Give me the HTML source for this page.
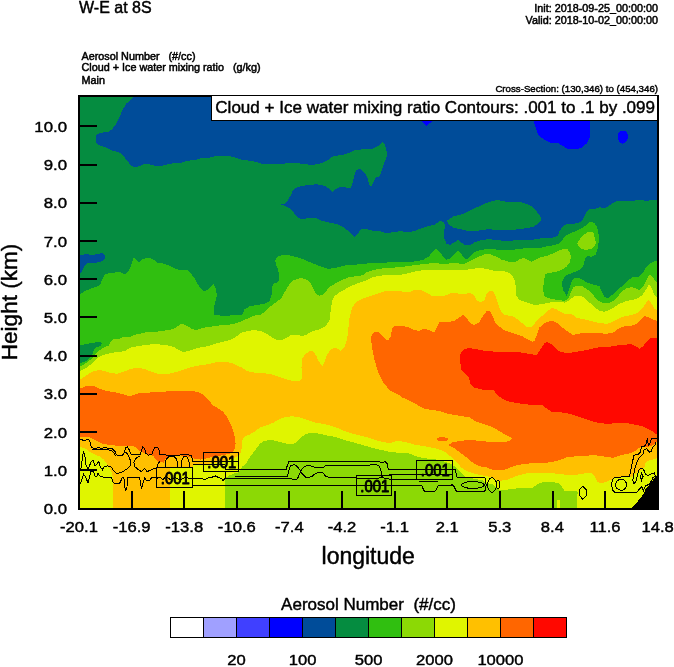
<!DOCTYPE html>
<html><head><meta charset="utf-8"><title>W-E at 8S</title>
<style>
html,body{margin:0;padding:0;background:#fff;}
svg{display:block;}
text{font-family:"Liberation Sans",sans-serif;fill:#000;stroke:#000;stroke-width:.45px;stroke-linejoin:round;}
.t16{font-size:16px;}
.t17{font-size:17px;}
.t11{font-size:10.8px;stroke-width:.5px;}
.t10{font-size:9.7px;stroke-width:.45px;}
.t22{font-size:22.5px;}
.cl{font-size:17px;stroke-width:.95px;}
</style></head><body>
<svg width="674" height="667" viewBox="0 0 674 667">
<rect width="674" height="667" fill="#fff"/>
<g shape-rendering="crispEdges">
<rect x="79" y="96" width="579" height="412" fill="#058c40"/>
<path d="M135.8 96.0 L658.0 96.0 L658.0 199.5 L653.2 200.0 L647.0 200.8 L639.5 200.0 L632.0 200.8 L624.0 200.7 L616.8 201.3 L613.0 203.2 L608.6 205.7 L605.5 208.2 L603.0 208.2 L600.5 207.2 L595.4 208.6 L589.1 209.2 L586.6 211.4 L584.7 215.2 L582.8 220.2 L579.0 222.7 L572.7 224.0 L565.2 224.6 L562.0 227.1 L559.5 231.5 L557.6 235.9 L552.6 237.8 L540.0 238.5 L534.0 239.5 L526.5 239.5 L519.0 239.5 L511.5 240.8 L504.0 240.8 L496.5 240.0 L489.0 239.2 L481.5 240.0 L475.2 242.0 L470.2 245.0 L465.2 245.5 L461.5 242.5 L457.8 240.0 L454.0 242.5 L450.2 245.0 L446.5 243.8 L444.5 238.8 L444.0 231.2 L445.2 226.2 L444.0 222.5 L440.2 220.8 L434.0 225.0 L427.8 226.2 L421.5 228.2 L414.0 231.2 L409.0 232.0 L399.5 231.2 L394.5 232.0 L387.0 233.2 L379.5 231.2 L372.0 230.5 L364.5 228.8 L360.8 229.2 L357.5 234.2 L354.5 237.0 L352.0 235.0 L347.0 230.0 L342.0 226.2 L337.0 224.2 L329.5 222.5 L322.0 220.8 L315.8 218.2 L309.5 218.0 L302.0 219.2 L298.2 218.0 L294.5 213.8 L290.8 208.8 L285.8 206.2 L281.2 204.5 L285.8 203.2 L288.2 200.0 L290.8 195.0 L293.2 190.0 L295.8 188.0 L302.0 185.8 L309.5 185.0 L317.0 184.2 L324.5 185.8 L329.5 188.8 L332.5 192.5 L335.8 188.8 L340.8 187.0 L345.8 187.5 L350.8 188.0 L352.8 182.5 L354.5 175.0 L356.5 170.0 L359.5 168.8 L363.2 171.2 L367.0 176.2 L369.0 183.8 L370.8 187.0 L373.2 182.5 L375.8 177.5 L379.5 176.2 L382.0 170.0 L384.5 162.5 L387.5 155.0 L385.0 145.0 L382.5 142.0 L378.2 146.2 L372.0 148.8 L364.5 149.2 L354.5 150.0 L349.5 152.5 L342.0 155.0 L333.2 156.2 L328.2 160.0 L322.0 163.2 L312.0 165.0 L302.0 163.8 L293.2 162.5 L282.0 163.8 L272.0 164.2 L262.0 163.8 L252.0 160.8 L242.0 160.0 L232.5 156.8 L225.0 155.5 L217.5 155.5 L210.0 157.5 L202.5 157.5 L195.0 160.0 L187.5 160.8 L182.5 162.5 L175.0 163.0 L167.5 164.2 L161.2 166.2 L155.0 165.8 L150.0 164.5 L143.8 164.2 L138.8 166.2 L135.0 167.5 L131.2 165.8 L127.5 161.2 L123.8 156.2 L118.8 152.0 L112.5 150.8 L107.5 148.2 L102.5 146.2 L98.0 145.0 L96.0 142.5 L96.0 136.2 L97.5 133.8 L102.5 132.5 L108.2 132.0 L112.5 128.8 L116.2 123.8 L119.5 117.5 L122.5 110.0 L126.2 103.8 L131.2 99.0Z" fill="#004c99"/>
<path d="M446.5 220.8 L454.0 216.2 L462.8 214.2 L469.0 210.8 L476.5 207.5 L484.0 203.8 L491.5 201.2 L497.8 200.0 L506.5 201.8 L519.0 201.8 L526.5 203.8 L531.5 206.2 L536.5 211.2 L540.2 216.2 L541.5 219.5 L537.8 223.8 L532.8 227.0 L526.5 228.2 L516.5 229.5 L504.0 230.0 L494.0 230.0 L489.0 228.8 L484.0 230.0 L476.5 230.8 L469.0 231.2 L461.5 229.5 L454.0 228.0 L449.0 224.5Z" fill="#058c40"/>
<path d="M79.5 255.0 L86.2 254.2 L92.5 255.0 L97.5 253.8 L102.5 253.2 L105.0 255.0 L105.5 258.0 L102.5 261.2 L97.5 262.5 L90.0 262.5 L86.2 263.8 L83.8 267.5 L81.2 272.5 L79.5 273.8Z" fill="#004c99"/>
<path d="M420.0 120.0 L433.0 120.0 L430.0 123.0 L426.5 125.8 L423.0 123.0Z" fill="#0000ff"/>
<path d="M533.2 120.0 L535.8 127.5 L538.2 135.0 L544.5 140.0 L552.0 143.2 L558.2 143.0 L562.0 145.5 L567.0 148.8 L575.8 149.5 L582.0 147.5 L587.0 143.2 L589.5 137.5 L589.5 120.0Z" fill="#0000ff"/>
<path d="M618.0 134.0 L619.5 131.5 L622.5 130.8 L626.0 131.5 L628.0 134.5 L627.5 138.5 L626.0 142.0 L623.0 143.8 L620.0 143.0 L618.5 139.5Z" fill="#0000ff"/>
<path d="M79.5 294.5 L85.0 291.2 L90.0 288.8 L96.2 287.0 L100.0 285.0 L102.5 278.8 L105.0 274.5 L108.8 273.0 L115.0 272.5 L120.0 272.0 L125.0 274.2 L128.8 271.2 L131.2 265.0 L133.8 257.0 L136.2 259.5 L138.8 262.5 L142.5 259.5 L146.2 258.0 L150.0 258.0 L153.8 260.0 L157.5 262.5 L162.5 263.2 L167.5 265.0 L172.5 267.5 L177.5 269.5 L182.5 270.0 L187.5 270.5 L191.2 273.8 L195.0 278.8 L197.5 283.8 L201.2 288.8 L203.8 291.8 L207.5 290.0 L211.2 286.2 L213.8 284.2 L216.2 290.0 L216.8 296.2 L215.0 302.5 L213.8 308.8 L213.8 315.0 L220.0 315.5 L230.0 315.5 L241.8 315.0 L244.5 309.5 L249.5 306.2 L257.0 305.0 L264.5 303.8 L269.5 301.2 L271.5 295.0 L272.0 286.2 L274.5 283.2 L278.2 282.0 L279.5 276.2 L278.2 270.0 L275.8 263.8 L275.2 260.0 L278.2 256.2 L283.2 255.0 L289.5 255.5 L295.8 257.0 L302.0 258.8 L309.5 262.0 L317.0 265.0 L322.0 267.0 L328.2 268.8 L334.5 268.0 L342.0 266.2 L349.5 264.5 L357.0 264.5 L364.5 263.8 L372.0 263.0 L379.5 262.5 L387.0 262.5 L394.5 262.0 L402.0 262.0 L408.8 262.0 L416.5 261.2 L424.0 259.5 L429.0 256.2 L432.8 251.2 L436.0 248.8 L439.0 251.2 L442.8 256.2 L446.5 259.5 L450.2 258.8 L454.0 255.0 L457.8 251.2 L460.2 252.0 L462.8 256.2 L466.5 259.5 L470.2 256.2 L474.0 252.0 L480.2 250.0 L489.0 248.8 L496.5 249.5 L504.0 250.5 L511.5 250.0 L519.0 248.8 L529.0 248.0 L540.0 247.9 L545.0 246.6 L552.6 245.4 L558.9 243.5 L562.0 240.3 L564.6 236.6 L567.1 234.7 L571.5 232.8 L576.5 230.9 L581.6 228.4 L585.3 225.9 L588.5 222.7 L591.6 221.8 L594.8 223.3 L597.3 227.7 L598.6 234.0 L598.6 242.9 L597.3 250.4 L595.4 254.8 L591.6 256.7 L587.9 256.1 L585.3 258.0 L584.1 263.0 L582.2 268.1 L577.8 270.6 L571.5 273.1 L567.1 275.0 L563.9 277.5 L561.5 283.8 L563.2 290.0 L566.5 295.5 L568.2 292.5 L570.0 286.2 L572.5 280.0 L575.8 277.5 L580.8 278.8 L587.0 282.5 L594.5 285.0 L599.5 286.2 L602.0 292.5 L604.5 297.0 L608.2 298.0 L612.0 295.0 L617.0 290.0 L622.0 286.2 L627.0 281.2 L632.0 277.5 L638.2 277.0 L643.2 272.5 L645.8 267.5 L649.5 263.8 L654.5 261.2 L658.0 260.5 L658.0 508.0 L79.0 508.0Z" fill="#30bf10"/>
<path d="M79.5 345.5 L87.5 343.8 L95.0 342.5 L100.0 341.8 L102.0 343.8 L100.0 346.2 L96.2 347.5 L93.8 350.0 L92.5 353.8 L90.0 357.5 L86.2 361.2 L82.5 362.5 L79.5 362.5Z" fill="#058c40"/>
<path d="M79.5 367.0 L85.0 363.8 L90.0 360.0 L95.0 355.0 L98.8 350.8 L103.8 347.5 L108.8 345.5 L111.2 341.2 L113.8 339.2 L118.8 338.8 L123.8 337.0 L128.8 337.5 L133.8 335.0 L140.0 333.8 L147.5 332.0 L155.0 332.0 L162.5 330.8 L170.0 330.0 L175.0 328.0 L180.0 324.5 L183.8 324.2 L187.5 326.2 L192.5 329.2 L196.2 330.0 L200.0 328.8 L207.5 327.0 L215.0 326.2 L222.5 325.0 L230.0 324.5 L236.2 323.2 L241.8 321.2 L247.0 318.8 L253.2 315.8 L260.8 314.5 L265.8 311.2 L270.8 306.2 L275.8 302.5 L280.8 298.8 L284.5 292.5 L288.2 286.2 L292.0 281.2 L297.0 278.8 L302.0 278.0 L307.0 280.0 L310.8 283.8 L313.2 288.8 L315.8 293.8 L319.5 295.8 L323.2 294.5 L327.0 290.0 L330.8 286.2 L335.8 283.2 L342.0 280.0 L349.5 277.0 L357.0 276.2 L363.2 275.0 L367.0 272.0 L373.2 270.0 L379.5 268.8 L387.0 268.0 L394.5 267.5 L402.0 267.0 L408.8 265.8 L416.5 265.0 L424.0 263.8 L434.0 263.2 L444.0 263.8 L454.0 263.2 L464.0 263.8 L470.2 261.2 L476.5 257.5 L484.0 254.5 L489.0 253.8 L495.2 256.2 L501.5 259.5 L509.0 262.0 L515.2 262.0 L520.2 258.8 L524.0 258.0 L527.8 260.0 L531.5 262.0 L540.0 257.3 L546.3 256.1 L552.6 253.6 L558.9 250.4 L563.9 248.9 L567.7 249.4 L570.2 252.9 L570.9 258.0 L569.6 263.0 L566.4 266.8 L561.4 269.9 L556.4 271.8 L550.1 272.8 L545.7 273.7 L544.0 280.0 L543.2 288.8 L544.0 296.2 L548.2 298.0 L557.0 300.0 L564.5 300.8 L568.2 298.8 L570.8 292.5 L573.2 287.5 L577.0 285.5 L582.0 286.2 L588.2 290.0 L593.2 295.0 L597.0 300.0 L602.0 302.5 L609.5 302.5 L614.5 300.0 L618.2 296.2 L622.0 291.2 L627.0 288.0 L632.0 287.0 L637.0 288.8 L639.5 290.5 L643.2 286.2 L647.0 278.8 L649.5 275.0 L652.0 276.2 L654.5 280.0 L658.0 283.8 L658.0 508.0 L79.0 508.0Z" fill="#8cd905"/>
<path d="M577.2 243.5 L580.3 238.5 L584.1 234.7 L587.9 232.2 L592.3 232.2 L594.2 234.0 L594.8 239.1 L596.0 242.9 L594.8 246.0 L592.3 248.5 L586.6 249.8 L581.6 249.2 L578.4 246.0Z" fill="#8cd905"/>
<path d="M79.5 371.2 L85.0 368.8 L90.0 365.0 L95.0 360.0 L100.0 356.2 L107.5 353.8 L113.8 352.5 L120.0 352.0 L125.0 350.8 L131.2 347.5 L137.5 346.2 L145.0 345.0 L152.5 344.2 L160.0 344.5 L167.5 345.5 L173.8 347.0 L178.8 350.0 L182.5 352.0 L187.5 351.2 L192.5 349.5 L200.0 347.5 L207.5 346.2 L215.0 343.8 L222.5 341.8 L230.0 340.0 L235.0 337.5 L241.8 332.5 L248.2 330.8 L254.5 330.0 L260.8 331.2 L267.0 333.8 L272.0 337.5 L277.0 340.0 L282.0 340.0 L287.0 337.5 L292.0 334.5 L297.0 334.5 L302.0 336.2 L307.0 334.5 L312.0 331.2 L319.5 329.5 L325.8 326.2 L329.5 320.0 L330.8 310.0 L332.0 301.2 L334.5 296.2 L339.5 292.5 L345.8 288.8 L352.0 285.5 L359.5 282.5 L367.0 280.0 L372.0 277.5 L379.5 275.8 L387.0 275.0 L394.5 275.0 L402.0 274.5 L408.8 273.0 L416.5 271.2 L424.0 270.0 L434.0 269.5 L444.0 270.0 L454.0 270.0 L464.0 270.5 L471.5 268.8 L481.5 268.0 L489.0 269.5 L496.5 271.2 L504.0 271.2 L509.0 273.0 L512.8 276.2 L515.2 281.2 L516.0 290.0 L516.5 296.2 L519.5 300.0 L527.0 302.5 L534.5 305.0 L542.0 304.2 L549.5 302.5 L557.0 301.8 L564.5 302.5 L569.5 300.0 L574.5 296.2 L579.5 295.5 L584.5 298.0 L589.5 302.5 L594.5 307.5 L599.5 310.8 L604.5 311.8 L609.5 310.0 L614.5 307.0 L619.5 303.8 L625.8 301.2 L632.0 300.0 L637.0 298.8 L642.0 295.5 L645.8 290.0 L648.2 285.5 L650.0 284.5 L652.0 288.8 L654.5 295.0 L658.0 298.8 L658.0 508.0 L79.0 508.0Z" fill="#e0f500"/>
<path d="M79.5 380.0 L85.0 376.2 L90.0 373.0 L95.0 370.8 L100.0 370.0 L105.0 371.2 L111.2 373.0 L117.5 373.8 L125.0 371.2 L131.2 368.8 L137.5 367.5 L143.8 368.8 L150.0 371.2 L157.5 373.8 L165.0 374.5 L172.5 373.0 L180.0 370.8 L187.5 368.2 L195.0 366.2 L202.5 365.0 L210.0 363.8 L217.5 362.0 L225.0 361.8 L232.5 363.2 L237.5 365.8 L242.0 367.5 L247.0 371.2 L254.5 372.5 L262.0 373.2 L269.5 373.8 L277.0 376.2 L284.5 378.8 L292.0 380.8 L299.5 380.8 L302.0 378.8 L301.5 367.5 L302.0 358.8 L305.8 353.8 L309.5 351.2 L313.2 351.2 L315.8 355.0 L318.2 360.0 L320.8 364.5 L322.5 365.8 L324.5 362.5 L327.0 355.0 L330.8 349.5 L334.5 347.5 L338.2 348.8 L340.8 350.8 L344.5 347.5 L347.0 340.0 L348.2 330.0 L349.5 317.5 L352.0 307.5 L355.8 302.5 L362.0 298.8 L369.5 296.2 L377.0 293.8 L384.5 291.2 L392.0 290.5 L399.5 291.2 L408.8 292.5 L414.0 290.0 L420.2 289.5 L426.5 292.5 L431.5 295.5 L437.8 296.2 L444.0 296.2 L449.0 293.8 L454.0 292.5 L459.0 293.8 L464.0 294.5 L470.2 292.5 L474.0 295.5 L476.5 300.0 L480.2 302.5 L484.0 300.8 L486.5 294.5 L489.0 291.2 L492.8 291.2 L495.2 295.0 L497.8 302.5 L500.2 310.0 L504.0 314.5 L509.0 315.8 L512.0 316.2 L517.0 318.8 L522.0 323.0 L527.0 327.0 L530.8 327.5 L534.5 323.8 L538.2 318.8 L543.2 315.0 L548.2 310.5 L552.0 308.0 L555.8 308.8 L559.5 311.2 L564.5 313.8 L569.5 313.8 L573.2 315.0 L577.0 318.0 L584.5 319.5 L592.0 321.2 L599.5 323.0 L607.0 323.8 L612.0 322.0 L618.2 318.8 L624.5 316.2 L632.0 315.0 L638.2 312.5 L643.2 307.5 L647.0 301.2 L648.8 300.0 L650.8 302.5 L654.5 308.8 L658.0 311.2 L658.0 457.5 L653.0 459.6 L647.9 460.9 L645.4 462.8 L644.8 466.6 L642.9 469.1 L637.9 471.6 L634.1 474.7 L631.6 476.6 L627.8 477.3 L619.0 477.3 L612.7 478.5 L611.6 479.7 L606.6 481.6 L601.6 483.1 L597.8 482.3 L595.9 479.1 L594.0 475.3 L591.5 473.4 L585.2 473.4 L576.4 474.7 L570.1 475.1 L565.0 474.7 L560.0 473.8 L557.5 474.0 L552.5 473.0 L543.7 472.7 L534.9 472.7 L526.0 473.4 L518.5 475.3 L512.2 477.8 L505.9 480.3 L499.6 480.6 L493.3 478.4 L487.0 476.2 L482.3 475.3 L476.0 474.0 L469.8 472.1 L464.7 470.2 L460.9 467.1 L457.2 462.7 L453.4 458.9 L449.6 455.7 L445.8 452.6 L440.8 450.1 L434.5 448.2 L428.2 446.9 L421.9 445.7 L415.6 445.0 L409.3 443.1 L403.0 441.6 L397.0 441.0 L390.0 443.2 L382.5 442.0 L375.0 440.0 L367.5 437.5 L360.0 435.5 L352.5 433.8 L345.0 431.2 L337.5 428.0 L330.0 425.5 L322.5 423.8 L315.0 422.5 L307.5 420.0 L300.0 417.5 L292.5 416.2 L285.0 417.0 L280.0 418.8 L273.8 422.5 L267.5 425.0 L260.0 427.5 L255.0 431.2 L250.0 434.5 L245.0 436.2 L242.5 440.0 L241.2 452.5 L239.0 455.2 L233.1 458.4 L225.5 460.9 L215.5 462.8 L205.4 464.0 L192.8 464.0 L192.8 467.5 L169.5 467.5 L169.5 508.0 L113.2 508.0 L113.3 500.6 L113.5 488.0 L113.2 479.2 L111.9 472.9 L109.4 467.8 L106.2 462.8 L103.1 459.0 L99.9 456.5 L94.9 454.6 L89.9 452.0 L87.3 449.6 L83.6 447.7 L79.5 447.0Z" fill="#ffc000"/>
<path d="M372.0 335.0 L374.5 332.0 L378.2 331.8 L382.0 335.0 L385.8 339.2 L388.2 340.5 L390.8 336.2 L392.0 328.8 L394.5 326.2 L402.0 325.8 L408.8 327.5 L414.0 330.0 L419.0 330.8 L424.0 328.8 L429.0 330.0 L434.0 332.5 L436.5 327.5 L439.0 322.5 L446.5 322.0 L454.0 321.2 L459.0 317.5 L462.8 315.0 L466.5 317.5 L470.2 323.0 L474.0 325.0 L479.0 322.5 L482.8 316.2 L486.5 311.2 L489.5 310.8 L492.8 316.2 L495.2 322.5 L499.0 326.2 L504.0 330.0 L507.0 331.2 L514.5 333.8 L522.0 336.2 L528.2 339.5 L532.0 341.8 L534.5 340.8 L537.0 335.0 L539.5 327.5 L544.5 323.0 L550.8 320.8 L555.8 322.0 L560.8 326.2 L567.0 331.2 L573.2 335.0 L578.2 333.8 L584.5 332.5 L592.0 332.5 L599.5 333.2 L607.0 333.8 L613.2 332.5 L618.2 328.8 L624.5 326.2 L632.0 325.5 L637.0 323.8 L640.8 320.0 L644.5 316.2 L648.2 317.0 L653.2 319.5 L658.0 321.2 L658.0 440.1 L655.5 442.6 L653.0 445.2 L649.2 446.4 L645.4 447.0 L644.0 445.7 L639.3 447.6 L635.6 450.8 L630.5 453.3 L623.0 454.6 L617.9 456.4 L612.9 457.7 L607.9 457.1 L600.3 455.8 L592.7 455.2 L585.2 455.8 L575.1 456.4 L567.6 457.1 L560.0 459.8 L552.5 462.0 L543.7 463.0 L534.9 463.0 L524.8 463.9 L517.2 465.2 L509.7 467.7 L504.6 469.6 L498.3 470.2 L492.0 469.6 L487.0 467.5 L483.6 467.1 L478.6 465.8 L473.5 463.3 L468.5 458.9 L463.5 455.1 L458.4 451.3 L453.4 447.6 L448.2 445.0 L452.5 442.5 L460.0 440.8 L470.0 440.0 L480.0 440.8 L490.0 442.0 L500.0 442.5 L508.8 441.2 L512.5 438.8 L510.0 437.0 L505.0 434.5 L497.5 430.0 L490.0 426.2 L482.5 423.8 L475.0 421.2 L470.0 417.5 L462.5 416.2 L455.0 415.0 L447.5 413.8 L440.0 411.2 L432.5 410.0 L425.0 408.8 L417.5 405.0 L410.0 401.2 L402.5 397.5 L397.0 393.8 L389.5 390.0 L383.2 382.5 L378.2 372.5 L374.5 360.0 L372.0 347.5 L370.8 337.5Z" fill="#ff6600"/>
<path d="M79.5 388.8 L86.2 386.2 L93.8 386.2 L100.0 388.8 L107.5 391.2 L116.2 392.5 L123.8 394.5 L128.8 396.2 L133.8 395.0 L140.0 393.0 L150.0 392.5 L160.0 392.0 L170.0 391.2 L180.0 390.5 L190.0 390.5 L197.5 392.0 L203.8 395.0 L208.8 400.0 L212.5 405.0 L217.5 408.0 L222.5 411.2 L227.5 417.5 L231.2 425.0 L233.8 432.5 L235.3 440.0 L235.6 444.0 L234.3 450.2 L230.6 453.3 L223.0 455.2 L215.5 456.5 L207.9 458.0 L200.3 459.6 L195.3 459.0 L191.5 457.1 L185.2 455.9 L177.7 455.2 L170.0 455.9 L167.6 457.0 L165.2 459.1 L164.1 462.6 L158.5 462.2 L155.6 459.1 L152.8 455.6 L146.5 454.0 L141.5 452.0 L139.0 450.2 L136.5 447.7 L132.7 445.8 L126.4 445.8 L120.1 445.8 L113.8 445.4 L107.5 444.5 L101.2 443.3 L96.2 440.7 L92.4 438.9 L88.6 437.0 L79.5 437.0Z" fill="#ff6600"/>
<path d="M436.2 439.0 L439.0 437.2 L444.0 437.0 L448.0 438.5 L447.0 440.5 L442.0 441.2 L438.0 441.0Z" fill="#ff6600"/>
<path d="M460.2 355.0 L462.8 350.0 L467.8 348.0 L474.0 348.8 L484.0 350.8 L496.5 351.8 L509.0 351.8 L521.5 352.5 L531.5 354.2 L536.5 355.0 L540.2 350.0 L544.0 343.8 L547.0 341.8 L550.8 343.8 L554.5 347.5 L558.2 351.2 L564.5 352.5 L572.0 352.5 L579.5 351.2 L587.0 350.0 L594.5 348.0 L602.0 346.8 L609.5 346.8 L617.0 345.5 L624.5 345.0 L629.5 343.8 L634.5 345.5 L639.5 348.8 L643.2 346.2 L647.0 341.2 L650.8 338.0 L658.0 337.5 L658.0 434.8 L654.2 433.2 L651.7 430.7 L648.2 428.8 L642.0 426.2 L634.5 424.5 L627.0 423.2 L617.0 423.2 L607.0 423.8 L599.5 423.0 L592.0 421.2 L584.5 418.8 L577.0 416.2 L569.5 413.8 L562.0 412.5 L552.0 412.0 L547.0 408.8 L542.0 405.0 L532.0 405.0 L522.0 403.8 L514.5 402.5 L507.0 401.2 L502.5 398.8 L497.5 395.0 L493.8 390.5 L489.0 390.0 L481.5 389.5 L474.0 387.5 L470.2 383.8 L469.0 377.5 L465.2 373.8 L461.5 370.0 L460.2 362.5Z" fill="#ff0800"/>
<path d="M225.0 508.0 L224.9 481.7 L225.5 477.9 L229.3 475.4 L234.3 473.5 L239.0 472.2 L242.5 466.2 L246.2 463.8 L248.8 458.8 L252.5 453.8 L256.2 448.8 L260.0 443.8 L263.8 440.8 L272.5 440.0 L280.0 442.0 L287.5 443.8 L293.8 443.8 L297.5 441.2 L301.2 437.0 L306.2 433.8 L312.5 432.5 L320.0 433.8 L327.5 435.5 L335.0 437.0 L344.2 440.0 L351.7 441.9 L360.6 444.4 L369.4 446.9 L375.7 448.8 L382.0 450.1 L389.5 452.0 L397.1 452.6 L403.0 452.6 L408.0 453.2 L413.1 455.1 L418.1 457.0 L424.4 458.3 L432.0 458.9 L439.5 460.2 L445.8 462.0 L450.9 463.9 L454.6 466.4 L458.4 469.6 L461.6 473.4 L464.7 476.5 L469.8 477.8 L476.0 479.0 L482.3 480.3 L487.0 483.0 L493.3 484.7 L496.5 487.5 L499.6 489.7 L505.9 489.7 L512.2 489.1 L518.5 488.2 L524.8 488.2 L532.3 487.9 L534.9 486.0 L537.4 484.1 L541.2 482.6 L547.5 481.8 L553.8 482.2 L558.8 483.5 L561.3 485.3 L562.6 488.5 L565.0 491.1 L576.4 491.3 L577.6 492.3 L577.0 500.5 L577.0 508.0Z" fill="#8cd905"/>
<rect x="557" y="500" width="3" height="8" fill="#e0f500"/>
<path d="M631.6 508.0 L636.6 503.0 L640.4 498.0 L644.2 493.0 L645.4 489.2 L649.2 485.5 L651.7 481.7 L655.5 476.6 L658.0 474.0 L658.0 508.0Z" fill="#000"/>
</g>
<g shape-rendering="crispEdges">
<path d="M80.2 439.1 L82.3 439.9 L84.2 440.7 L86.1 439.9 L88.6 439.1 L89.9 441.4 L90.5 445.2 L91.7 447.7 L94.9 448.3 L98.7 447.7 L101.2 448.3 L105.0 447.7 L108.7 448.3 L112.5 448.9 L115.0 451.4 L116.3 454.6 L118.8 455.9 L122.6 455.2 L124.5 452.1 L125.7 447.7 L127.6 447.0 L129.5 450.2 L130.8 454.0 L135.2 454.6 L140.2 454.6 L141.5 450.2 L142.8 447.0 L144.6 448.3 L145.9 453.3 L148.4 455.2 L151.6 454.6 L153.5 450.2 L155.3 447.0 L157.9 447.7 L159.1 450.2 L160.0 454.6" fill="none" stroke="#000" stroke-width="1"/>
<path d="M124.5 452.1 L126.4 452.7 L128.9 456.5 L130.8 461.5 L130.2 465.9 L127.6 468.5 L123.9 471.0 L120.1 472.9 L116.3 473.5 L113.8 471.0 L111.3 467.2 L107.5 465.9 L103.7 467.2 L102.4 469.7 L100.6 467.8 L98.7 461.5 L96.8 464.0 L94.9 465.9 L93.0 460.3 L91.1 461.5 L89.2 466.6 L88.0 468.5 L86.1 465.3 L84.8 455.2 L83.6 452.7 L82.3 456.5 L81.7 466.6 L80.2 469.1" fill="none" stroke="#000" stroke-width="1"/>
<path d="M140.2 455.9 L136.5 457.7 L133.9 462.2 L134.6 466.6 L137.7 469.1 L141.5 471.6 L144.6 468.5 L147.2 471.6 L151.6 469.7 L156.6 467.8 L158.5 462.8 L160.0 461.5" fill="none" stroke="#000" stroke-width="1"/>
<path d="M80.2 484.2 L81.7 480.4 L83.6 474.1 L85.4 476.6 L88.0 482.9 L89.9 475.4 L91.1 471.0 L93.6 471.0 L94.9 476.0 L96.8 476.6 L98.0 473.5 L100.6 476.6 L105.0 477.3 L111.3 477.3 L113.2 482.9 L116.3 483.6 L120.1 482.9 L122.0 477.9 L123.9 477.9 L124.5 485.5 L125.7 491.1 L127.0 486.7 L127.6 477.9 L132.7 477.6 L139.0 477.6 L140.2 480.4 L141.5 489.2 L143.4 481.7 L144.6 477.9 L146.5 480.4 L149.0 481.0 L151.6 477.9 L156.6 477.6 L160.0 477.9" fill="none" stroke="#000" stroke-width="1"/>
<path d="M160.0 454.6 L159.8 454.0 L167.6 455.2 L177.7 455.2 L185.2 454.6 L191.5 455.2 L192.8 461.5 L203.5 461.8" fill="none" stroke="#000" stroke-width="1"/>
<path d="M165.1 467.8 L165.1 462.8 L166.3 459.0 L168.9 456.5 L173.9 456.5 L176.4 459.0 L177.7 462.8 L177.7 467.8" fill="none" stroke="#000" stroke-width="1"/>
<path d="M181.4 467.8 L182.1 459.0 L184.0 456.5 L187.1 457.1 L189.0 461.5 L189.6 467.8" fill="none" stroke="#000" stroke-width="1"/>
<path d="M192.8 464.7 L203.5 464.7" fill="none" stroke="#000" stroke-width="1"/>
<path d="M192.5 478.8 L202.9 478.8 L204.7 479.8 L207.9 477.9 L211.7 477.3 L215.5 476.0 L219.2 477.9 L221.8 478.5 L223.0 480.4 L224.9 478.8 L235.0 478.2" fill="none" stroke="#000" stroke-width="1"/>
<path d="M224.9 471.3 L225.5 475.4 L224.9 478.8" fill="none" stroke="#000" stroke-width="1"/>
<path d="M192.5 485.5 L356.4 485.5" fill="none" stroke="#000" stroke-width="1"/>
<path d="M238.8 469.5 L286.0 469.5 L287.5 465.0 L289.0 461.5 L379.5 461.5 L380.7 462.7 L383.2 462.7 L385.1 461.4 L387.0 463.3 L387.6 467.1 L388.9 469.5 L455.3 469.5 L455.9 472.7 L456.5 476.5 L457.2 477.5 L484.9 477.5 L485.8 480.0 L486.1 485.0 L485.5 490.4 L483.6 491.5 L457.2 491.5 L455.9 490.4 L454.0 486.6 L452.1 484.7 L450.9 485.5 L438.9 485.5 L437.6 486.6 L436.4 489.7 L433.9 491.9 L431.3 491.0 L428.8 491.6 L425.7 491.9 L423.8 490.4 L422.5 487.2 L421.9 485.5 L391.8 485.5" fill="none" stroke="#000" stroke-width="1"/>
<path d="M235.0 476.5 L287.0 476.5 L287.9 474.0 L289.2 469.0 L290.4 465.8 L294.2 464.6 L297.3 466.4 L299.9 470.2 L302.4 474.0 L305.5 477.2 L309.3 477.2 L311.8 476.5 L315.6 473.4 L319.0 472.5 L322.1 472.5 L324.0 474.0 L325.9 476.8 L331.6 477.4 L336.0 477.8 L344.2 477.5 L356.8 478.0" fill="none" stroke="#000" stroke-width="1"/>
<path d="M235.0 478.5 L290.4 478.5 L292.9 479.5 L296.7 479.5 L298.6 476.5 L300.5 471.5 L303.0 467.7 L306.8 465.8 L310.6 465.8 L314.3 467.1 L319.0 468.0 L322.8 467.7 L325.3 465.8 L327.8 465.2 L369.4 465.2 L371.9 464.2 L375.7 464.6 L378.8 465.8 L380.7 469.0 L381.3 472.7 L382.0 476.5 L383.2 477.8" fill="none" stroke="#000" stroke-width="1"/>
<path d="M389.5 474.5 L403.0 474.6 L406.8 474.0 L410.6 474.3 L416.2 474.6" fill="none" stroke="#000" stroke-width="1"/>
<path d="M391.8 479.5 L416.2 479.5" fill="none" stroke="#000" stroke-width="1"/>
<path d="M419.4 481.5 L438.3 481.5" fill="none" stroke="#000" stroke-width="1"/>
<ellipse cx="472.9" cy="485.0" rx="11.3" ry="3.5" fill="none" stroke="#000" stroke-width="1"/>
<ellipse cx="492.0" cy="485.0" rx="4.4" ry="7.2" fill="none" stroke="#000" stroke-width="1"/>
<ellipse cx="498.0" cy="484.7" rx="1.6" ry="4.4" fill="none" stroke="#000" stroke-width="1"/>
<path d="M582.7 486.0 L586.4 489.8 L586.4 495.5 L582.7 499.3 L579.5 495.5 L579.5 489.8 L582.7 486.0" fill="none" stroke="#000" stroke-width="1"/>
<ellipse cx="621.1" cy="484.8" rx="5.5" ry="5.5" fill="none" stroke="#000" stroke-width="1"/>
<path d="M657.1 438.9 L651.7 438.2 L649.8 443.9 L648.6 445.2 L647.3 439.5 L646.0 443.9 L644.2 447.0 L641.6 446.4 L640.4 452.1 L637.9 454.6 L634.1 455.2 L632.8 460.3 L631.6 466.6 L630.3 472.9 L629.0 476.6 L615.2 477.3 L612.7 479.2 L611.4 484.2 L612.7 490.5 L615.2 492.4 L636.6 492.4 L641.6 486.7 L643.5 490.5 L645.4 486.1 L649.2 484.2 L651.7 480.4 L653.0 477.3 L655.5 476.6 L654.2 472.9 L651.7 473.5 L647.9 475.4 L645.4 474.1 L643.5 469.1 L640.4 468.5 L638.5 471.0 L637.2 476.6 L636.0 481.0 L634.1 484.2 L632.8 480.4 L633.5 475.4 L634.7 469.1 L636.6 462.8 L639.1 457.7 L642.9 454.0 L644.2 449.6 L646.7 448.9 L649.2 452.1 L651.1 451.4 L652.3 447.7 L654.9 445.2 L656.1 441.4" fill="none" stroke="#000" stroke-width="1"/>
<path d="M641.6 472.9 L640.4 476.6 L641.6 480.4 L643.1 476.6Z" fill="none" stroke="#000" stroke-width="1"/>
<path d="M203.5 461.5 L238.5 461.5" fill="none" stroke="#000" stroke-width="1"/>
<path d="M203.5 464.5 L225.0 464.5 L226.0 470.0 L238.5 469.5" fill="none" stroke="#000" stroke-width="1"/>
<path d="M156.5 478.5 L160.0 477.0 L163.0 480.0 L166.0 476.0 L170.0 479.5 L175.0 477.5 L180.0 480.0 L185.0 477.5 L192.5 478.8" fill="none" stroke="#000" stroke-width="1"/>
<path d="M356.5 478.0 L370.0 478.5 L383.2 477.8 L391.5 479.5" fill="none" stroke="#000" stroke-width="1"/>
<path d="M356.5 485.5 L391.5 485.5" fill="none" stroke="#000" stroke-width="1"/>
<path d="M416.5 474.6 L452.5 474.6" fill="none" stroke="#000" stroke-width="1"/>
<path d="M92.4 449.6 L94.9 449.9 L98.7 449.3 L101.2 449.9 L105.0 449.3 L108.7 449.9 L111.9 450.6 L113.8 452.7 L115.3 455.9" fill="none" stroke="#000" stroke-width="1"/>
<rect x="203.5" y="452.5" width="35.0" height="19.0" fill="none" stroke="#000" stroke-width="1"/><text x="221.8" y="468.3" text-anchor="middle" class="cl" textLength="29" lengthAdjust="spacingAndGlyphs">.001</text>
<rect x="156.5" y="467.5" width="36.0" height="20.0" fill="none" stroke="#000" stroke-width="1"/><text x="175.3" y="484.3" text-anchor="middle" class="cl" textLength="29" lengthAdjust="spacingAndGlyphs">.001</text>
<rect x="356.5" y="475.5" width="35.0" height="20.0" fill="none" stroke="#000" stroke-width="1"/><text x="374.8" y="492.3" text-anchor="middle" class="cl" textLength="29" lengthAdjust="spacingAndGlyphs">.001</text>
<rect x="416.5" y="460.5" width="36.0" height="19.0" fill="none" stroke="#000" stroke-width="1"/><text x="435.3" y="476.3" text-anchor="middle" class="cl" textLength="29" lengthAdjust="spacingAndGlyphs">.001</text>
</g>
<g shape-rendering="crispEdges">
<rect x="78" y="95" width="581" height="2" fill="#000"/><rect x="78" y="508" width="581" height="2" fill="#000"/><rect x="78" y="95" width="2" height="415" fill="#000"/><rect x="657" y="95" width="2" height="415" fill="#000"/>
<rect x="79" y="469" width="18" height="2" fill="#000"/>
<rect x="79" y="431" width="18" height="2" fill="#000"/>
<rect x="79" y="393" width="18" height="2" fill="#000"/>
<rect x="79" y="355" width="18" height="2" fill="#000"/>
<rect x="79" y="316" width="18" height="2" fill="#000"/>
<rect x="79" y="278" width="18" height="2" fill="#000"/>
<rect x="79" y="240" width="18" height="2" fill="#000"/>
<rect x="79" y="202" width="18" height="2" fill="#000"/>
<rect x="79" y="164" width="18" height="2" fill="#000"/>
<rect x="79" y="125" width="18" height="2" fill="#000"/>
<rect x="131" y="491" width="2" height="17" fill="#000"/>
<rect x="183" y="491" width="2" height="17" fill="#000"/>
<rect x="236" y="491" width="2" height="17" fill="#000"/>
<rect x="288" y="491" width="2" height="17" fill="#000"/>
<rect x="341" y="491" width="2" height="17" fill="#000"/>
<rect x="394" y="491" width="2" height="17" fill="#000"/>
<rect x="446" y="491" width="2" height="17" fill="#000"/>
<rect x="499" y="491" width="2" height="17" fill="#000"/>
<rect x="552" y="491" width="2" height="17" fill="#000"/>
<rect x="604" y="491" width="2" height="17" fill="#000"/>
<rect x="211.5" y="95.5" width="446" height="25" fill="#fff" stroke="#000" stroke-width="1"/>
</g>
<g>
<text x="79" y="13" class="t16">W-E at 8S</text>
<text x="658" y="11.5" text-anchor="end" class="t11">Init: 2018-09-25_00:00:00</text>
<text x="658" y="24" text-anchor="end" class="t11">Valid: 2018-10-02_00:00:00</text>
<text x="81.5" y="59.8" class="t11" style="white-space:pre">Aerosol Number   (#/cc)</text>
<text x="81.5" y="71.3" class="t11" style="white-space:pre">Cloud + Ice water mixing ratio   (g/kg)</text>
<text x="81.5" y="84" class="t11">Main</text>
<text x="658" y="92" text-anchor="end" class="t10">Cross-Section: (130,346) to (454,346)</text>
<text x="215.3" y="113" class="t17" style="font-size:17.05px">Cloud + Ice water mixing ratio Contours: .001 to .1 by .099</text>
<text transform="translate(67,514.0) scale(1.05,0.97)" text-anchor="end" class="t16">0.0</text>
<text transform="translate(67,475.8) scale(1.05,0.97)" text-anchor="end" class="t16">1.0</text>
<text transform="translate(67,437.6) scale(1.05,0.97)" text-anchor="end" class="t16">2.0</text>
<text transform="translate(67,399.4) scale(1.05,0.97)" text-anchor="end" class="t16">3.0</text>
<text transform="translate(67,361.2) scale(1.05,0.97)" text-anchor="end" class="t16">4.0</text>
<text transform="translate(67,323.0) scale(1.05,0.97)" text-anchor="end" class="t16">5.0</text>
<text transform="translate(67,284.8) scale(1.05,0.97)" text-anchor="end" class="t16">6.0</text>
<text transform="translate(67,246.6) scale(1.05,0.97)" text-anchor="end" class="t16">7.0</text>
<text transform="translate(67,208.4) scale(1.05,0.97)" text-anchor="end" class="t16">8.0</text>
<text transform="translate(67,170.2) scale(1.05,0.97)" text-anchor="end" class="t16">9.0</text>
<text transform="translate(67,132.0) scale(1.05,0.97)" text-anchor="end" class="t16">10.0</text>
<text transform="translate(79.0,532.4) scale(1.04,0.97)" text-anchor="middle" class="t16">-20.1</text>
<text transform="translate(131.6,532.4) scale(1.04,0.97)" text-anchor="middle" class="t16">-16.9</text>
<text transform="translate(184.2,532.4) scale(1.04,0.97)" text-anchor="middle" class="t16">-13.8</text>
<text transform="translate(236.8,532.4) scale(1.04,0.97)" text-anchor="middle" class="t16">-10.6</text>
<text transform="translate(289.4,532.4) scale(1.04,0.97)" text-anchor="middle" class="t16">-7.4</text>
<text transform="translate(342.0,532.4) scale(1.04,0.97)" text-anchor="middle" class="t16">-4.2</text>
<text transform="translate(394.6,532.4) scale(1.04,0.97)" text-anchor="middle" class="t16">-1.1</text>
<text transform="translate(447.2,532.4) scale(1.04,0.97)" text-anchor="middle" class="t16">2.1</text>
<text transform="translate(499.8,532.4) scale(1.04,0.97)" text-anchor="middle" class="t16">5.3</text>
<text transform="translate(552.4,532.4) scale(1.04,0.97)" text-anchor="middle" class="t16">8.4</text>
<text transform="translate(605.0,532.4) scale(1.04,0.97)" text-anchor="middle" class="t16">11.6</text>
<text transform="translate(657.6,532.4) scale(1.04,0.97)" text-anchor="middle" class="t16">14.8</text>
<text x="368.2" y="563.7" text-anchor="middle" class="t22" style="font-size:23px">longitude</text>
<text transform="translate(17,302) rotate(-90)" text-anchor="middle" class="t22">Height (km)</text>
<text x="368.5" y="610" text-anchor="middle" class="t17" style="white-space:pre">Aerosol Number  (#/cc)</text>
<rect x="170.5" y="617.5" width="33" height="20" fill="#ffffff" stroke="#000" stroke-width="1"/>
<rect x="203.5" y="617.5" width="33" height="20" fill="#a0a0ff" stroke="#000" stroke-width="1"/>
<rect x="236.5" y="617.5" width="33" height="20" fill="#4040ff" stroke="#000" stroke-width="1"/>
<rect x="269.5" y="617.5" width="33" height="20" fill="#0000ff" stroke="#000" stroke-width="1"/>
<rect x="302.5" y="617.5" width="33" height="20" fill="#004c99" stroke="#000" stroke-width="1"/>
<rect x="335.5" y="617.5" width="33" height="20" fill="#058c40" stroke="#000" stroke-width="1"/>
<rect x="368.5" y="617.5" width="33" height="20" fill="#30bf10" stroke="#000" stroke-width="1"/>
<rect x="401.5" y="617.5" width="33" height="20" fill="#8cd905" stroke="#000" stroke-width="1"/>
<rect x="434.5" y="617.5" width="33" height="20" fill="#e0f500" stroke="#000" stroke-width="1"/>
<rect x="467.5" y="617.5" width="33" height="20" fill="#ffc000" stroke="#000" stroke-width="1"/>
<rect x="500.5" y="617.5" width="33" height="20" fill="#ff6600" stroke="#000" stroke-width="1"/>
<rect x="533.5" y="617.5" width="33" height="20" fill="#ff0800" stroke="#000" stroke-width="1"/>
<text transform="translate(236.5,665) scale(1.04,0.97)" text-anchor="middle" class="t16">20</text>
<text transform="translate(302.5,665) scale(1.04,0.97)" text-anchor="middle" class="t16">100</text>
<text transform="translate(368.5,665) scale(1.04,0.97)" text-anchor="middle" class="t16">500</text>
<text transform="translate(434.5,665) scale(1.04,0.97)" text-anchor="middle" class="t16">2000</text>
<text transform="translate(500.5,665) scale(1.04,0.97)" text-anchor="middle" class="t16">10000</text>
</g>
</svg>
</body></html>
